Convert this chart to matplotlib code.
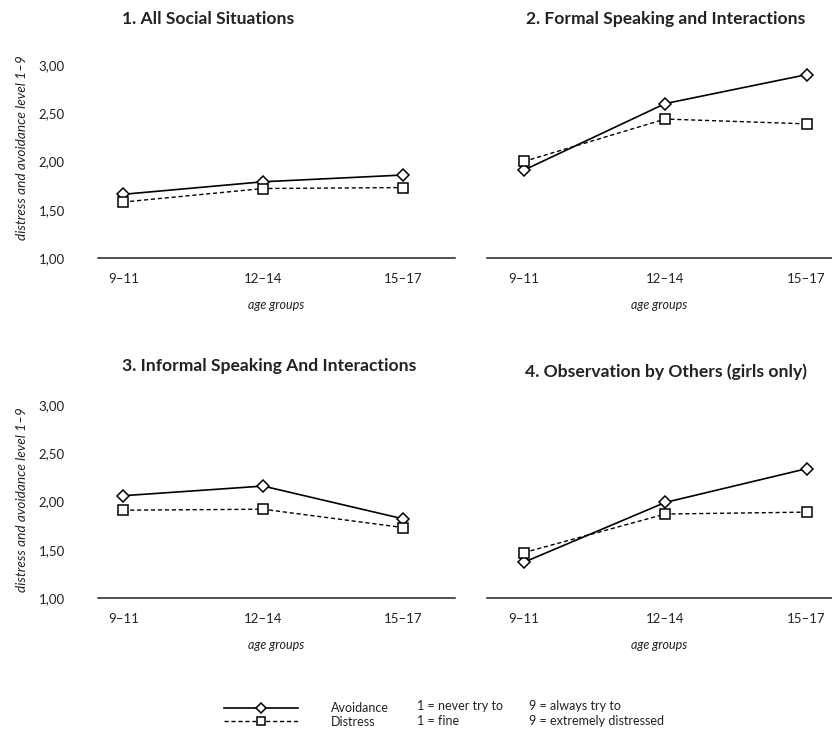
import matplotlib
matplotlib.use('Agg')
import matplotlib.pyplot as plt

plt.rcParams['font.family'] = ['Lato', 'DejaVu Sans']

age_groups = ['9–11', '12–14', '15–17']
titles = ['1. All Social Situations',
          '2. Formal Speaking and Interactions',
          '3. Informal Speaking And Interactions',
          '4. Observation by Others (girls only)']
avoidance = [[1.66, 1.79, 1.86],
             [1.91, 2.60, 2.90],
             [2.06, 2.16, 1.82],
             [1.37, 1.99, 2.34]]
distress = [[1.58, 1.72, 1.73],
            [2.00, 2.44, 2.39],
            [1.91, 1.92, 1.73],
            [1.47, 1.87, 1.89]]
yticks = [1.0, 1.5, 2.0, 2.5, 3.0]
ytick_labels = ['1,00', '1,50', '2,00', '2,50', '3,00']

W, H = 832, 729
fig = plt.figure(figsize=(W / 100, H / 100), dpi=100)

# axes rectangles in pixels: left, right, top, bottom
rects = [(98, 455, 65, 258), (487, 832, 65, 258),
         (98, 455, 405, 598), (487, 832, 405, 598)]
xlims = [(-0.18, 2.37), (-0.26, 2.18), (-0.18, 2.37), (-0.26, 2.18)]
title_pos = [(122, 19), (526, 19), (122, 366), (525, 372)]
ylabel_frac = [0.57, None, 0.508, None]

for i in range(4):
    l, r, t, b = rects[i]
    ax = fig.add_axes([l / W, 1 - b / H, (r - l) / W, (b - t) / H])
    x = range(len(age_groups))
    ax.plot(x, avoidance[i], color='black', lw=1.2, marker='D', ms=6.5,
            mfc='white', mec='black', mew=1.1, label='Avoidance', zorder=3)
    ax.plot(x, distress[i], color='black', lw=1.0, ls=(0, (3, 2)), marker='s',
            ms=6.5, mfc='white', mec='black', mew=1.1, label='Distress', zorder=3)
    ax.set_xlim(*xlims[i])
    ax.set_ylim(1.0, 3.0)
    for s in ['top', 'right', 'left']:
        ax.spines[s].set_visible(False)
    ax.spines['bottom'].set_color('#222222')
    ax.spines['bottom'].set_linewidth(1.1)
    ax.set_xticks(list(x))
    ax.set_xticklabels(age_groups, fontsize=9.5, color='#222222')
    ax.tick_params(axis='x', length=0, pad=11)
    ax.set_yticks(yticks)
    if i % 2 == 0:
        ax.set_yticklabels(ytick_labels, fontsize=9.5, color='#222222')
        ax.set_ylabel('distress and avoidance level 1–9', fontsize=9.8,
                      style='italic', color='#222222')
        ax.yaxis.set_label_coords((28 - l) / (r - l), ylabel_frac[i])
    else:
        ax.set_yticklabels([])
    ax.tick_params(axis='y', length=0, pad=24)
    ax.set_xlabel('age groups', fontsize=9, style='italic', color='#222222',
                  labelpad=10)
    fig.text(title_pos[i][0] / W, 1 - title_pos[i][1] / H, titles[i], ha='left',
             va='center', fontsize=12.6, fontweight='bold', color='#222222')

handles, labels = ax.get_legend_handles_labels()
fig.legend(handles, labels, loc='upper left', bbox_to_anchor=(218 / W, 1 - 696 / H),
           frameon=False, fontsize=9, handlelength=5.9, handletextpad=2.6,
           labelspacing=0.1, borderpad=0, numpoints=1, markerscale=0.8,
           labelcolor='#222222')
fig.text(417 / W, 1 - 706 / H, '1 = never try to', fontsize=9, va='center', color='#222222')
fig.text(417 / W, 1 - 721 / H, '1 = fine', fontsize=9, va='center', color='#222222')
fig.text(529 / W, 1 - 706 / H, '9 = always try to', fontsize=9, va='center', color='#222222')
fig.text(529 / W, 1 - 721 / H, '9 = extremely distressed', fontsize=9, va='center', color='#222222')

fig.savefig('out.png', dpi=100)
